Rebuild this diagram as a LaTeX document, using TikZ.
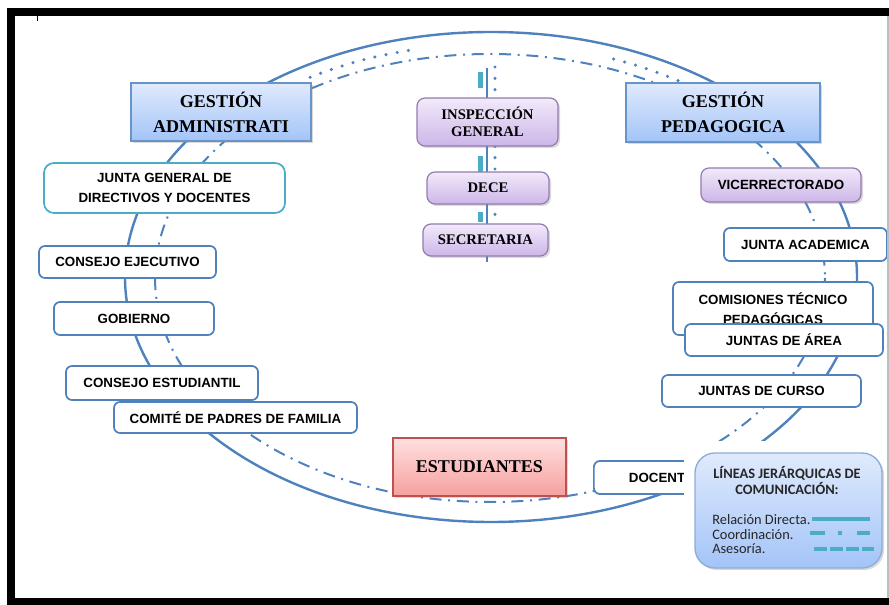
\documentclass[tikz,border=0pt]{standalone}
\usepackage{fontspec}
\setmainfont{Liberation Serif}
\newfontfamily\arialfont{Liberation Sans}
\newfontfamily\calibrifont{Carlito}
\usetikzlibrary{shadows}
\definecolor{steelblue}{RGB}{79, 129, 189}
\definecolor{skyblue}{RGB}{224, 234, 252}
\definecolor{cornflower}{RGB}{163, 196, 248}
\definecolor{lavender}{RGB}{242, 234, 250}
\definecolor{wisteria}{RGB}{204, 182, 232}
\definecolor{plumline}{RGB}{128, 100, 162}
\definecolor{blush}{RGB}{255, 224, 224}
\definecolor{salmonred}{RGB}{245, 160, 158}
\definecolor{brickred}{RGB}{192, 80, 77}
\definecolor{seateal}{RGB}{75, 172, 198}

\tikzset{
    softshadow/.style={drop shadow={opacity=0.3, shadow xshift=1.5pt, shadow yshift=-1.5pt}},
    gestbox/.style={draw=steelblue!85, line width=0.9pt, top color=skyblue, bottom color=cornflower,
        softshadow, align=center, font=\fontsize{13.5}{18.75}\selectfont\bfseries},
    lilabox/.style={draw=plumline!85, line width=0.9pt, rounded corners=6pt, top color=lavender,
        bottom color=wisteria, softshadow, align=center, font=\fontsize{11}{12.75}\selectfont\bfseries},
    sanslabel/.style={font=\arialfont\fontsize{10}{12}\selectfont\bfseries},
    linebox/.style={draw=steelblue, line width=1.3pt, rounded corners=4.5pt, fill=white, align=center,
        font=\arialfont\fontsize{10}{14.5}\selectfont\bfseries},
    redbox/.style={draw=brickred, line width=0.9pt, top color=blush, bottom color=salmonred,
        softshadow, align=center, font=\fontsize{13.5}{16}\selectfont\bfseries},
    legbox/.style={draw=steelblue!65, line width=1pt, rounded corners=15pt, top color=skyblue,
        bottom color=cornflower, softshadow},
    legtitle/.style={align=center, text=black!85, font=\calibrifont\fontsize{10.8}{12}\selectfont\bfseries},
    legitem/.style={anchor=west, inner sep=0pt, text=black!85, font=\calibrifont\fontsize{10.8}{12}\selectfont},
    relline/.style={steelblue, line width=1.8pt},
    coordline/.style={steelblue, line width=1.5pt, dash pattern=on 9pt off 5pt on 1.5pt off 5pt},
    dotline/.style={steelblue, line width=2.6pt, line cap=round, dash pattern=on 0pt off 8.5pt}
}

\begin{document}
\begin{tikzpicture}[x=0.75pt, y=-0.75pt]
    \useasboundingbox (0,0) rectangle (889,605);
    % Relacion directa (outer ring)
    \draw[relline] (491,277) ellipse [x radius=366, y radius=245];
    % Coordinacion (inner ring)
    \draw[coordline] (490,278) ellipse [x radius=335, y radius=224];
    % Dotted arcs at the top
    \draw[dotline] plot[domain=103.5:121.5, samples=25, smooth] ({490+350*cos(\x)}, {278-234*sin(\x)});
    \draw[dotline] plot[domain=57.5:71.2, samples=25, smooth] ({490+350*cos(\x)}, {278-234*sin(\x)});
    % Central axis
    \coordinate (axtop) at (487,68);
    \coordinate (axbot) at (487,262);
    \draw[steelblue, line width=0.8pt] (axtop) -- (axbot);
    \coordinate (dottop) at (495,67);
    \coordinate (dotbot) at (495,258);
    \draw[dotline] (dottop) -- (dotbot);
    \coordinate (astop) at (480.5,72);
    \coordinate (asbot) at (480.5,222);
    \draw[seateal, line width=3.5pt, dash pattern=on 12pt off 9pt] (astop) -- (asbot);

    % Gestion headers
    \node[gestbox, minimum width=135pt, minimum height=43.5pt] (adm) at (221,112) {GESTIÓN\\ADMINISTRATI};
    \node[gestbox, minimum width=145.5pt, minimum height=44.25pt] (ped) at (723,112.5) {GESTIÓN\\PEDAGOGICA};
    % Central column
    \node[lilabox, minimum width=105.75pt, minimum height=36pt] (insp) at (487.5,122) {INSPECCIÓN\\GENERAL};
    \node[lilabox, minimum width=91.5pt, minimum height=24pt] (dece) at (488,188) {DECE};
    \node[lilabox, minimum width=93.75pt, minimum height=24pt] (secr) at (485.5,240) {SECRETARIA};
    % Administrative side
    \node[linebox, draw=seateal, rounded corners=7.5pt, minimum width=180.75pt, minimum height=37.5pt] (jgen) at (164.5,188) {JUNTA GENERAL DE\\DIRECTIVOS Y DOCENTES};
    \node[linebox, minimum width=132.75pt, minimum height=24pt] (cejec) at (127.5,262) {CONSEJO EJECUTIVO};
    \node[linebox, minimum width=120pt, minimum height=24.75pt] (gob) at (134,318.5) {GOBIERNO};
    \node[linebox, minimum width=144pt, minimum height=25.5pt] (cest) at (162,383) {CONSEJO ESTUDIANTIL};
    \node[linebox, minimum width=182.25pt, minimum height=23.25pt] (cpad) at (235.5,417.5) {COMITÉ DE PADRES DE FAMILIA};
    % Pedagogical side
    \node[lilabox, sanslabel, minimum width=120pt, minimum height=25.5pt] (vice) at (781,185) {VICERRECTORADO};
    \node[linebox, minimum width=122.25pt, minimum height=24.75pt] (jacad) at (805.5,244.5) {JUNTA ACADEMICA};
    \node[linebox, minimum width=150pt, minimum height=39.75pt] (comis) at (773,308.5) {COMISIONES TÉCNICO\\PEDAGÓGICAS};
    \node[linebox, minimum width=148.5pt, minimum height=24pt] (jarea) at (784,340) {JUNTAS DE ÁREA};
    \node[linebox, minimum width=149.25pt, minimum height=24pt] (jcurso) at (761.5,391) {JUNTAS DE CURSO};
    % Bottom
    \node[redbox, minimum width=129.75pt, minimum height=43.5pt] (estud) at (479.5,467) {ESTUDIANTES};
    \node[linebox, anchor=west, align=left, text width=93.75pt, inner xsep=26.25pt, minimum height=24.75pt] (docent) at (593,477.5) {DOCENT};

    % Legend
    \fill[white] (684,441) rectangle (889,582);
    \node[legbox, minimum width=140.25pt, minimum height=86.25pt] (leg) at (788.5,510.5) {};
    \node[legtitle] (legtit) at (787,481) {LÍNEAS JERÁRQUICAS DE\\COMUNICACIÓN:};
    \node[legitem] (legdir) at (712,520) {Relación Directa.};
    \node[legitem] (legcoo) at (712,534.5) {Coordinación.};
    \node[legitem] (legase) at (712,549) {Asesoría.};
    \draw[seateal, line width=3pt] (812,519) -- (870,519);
    \draw[seateal, line width=3pt, dash pattern=on 11.25pt off 9.75pt on 3pt off 11.25pt] (810,533) -- (870,533);
    \draw[seateal, line width=3pt, dash pattern=on 9.4pt off 2.6pt] (814,549) -- (874,549);

    % Frame
    \fill[black] (7,8) rectangle (889,16);
    \fill[black] (7,8) rectangle (15,605);
    \fill[black] (7,598) rectangle (889,605);
    \draw[black!25, line width=0.8pt] (888,16) -- (888,598);
    \draw[black, line width=0.5pt] (37,16) -- (37,21);
\end{tikzpicture}
\end{document}
